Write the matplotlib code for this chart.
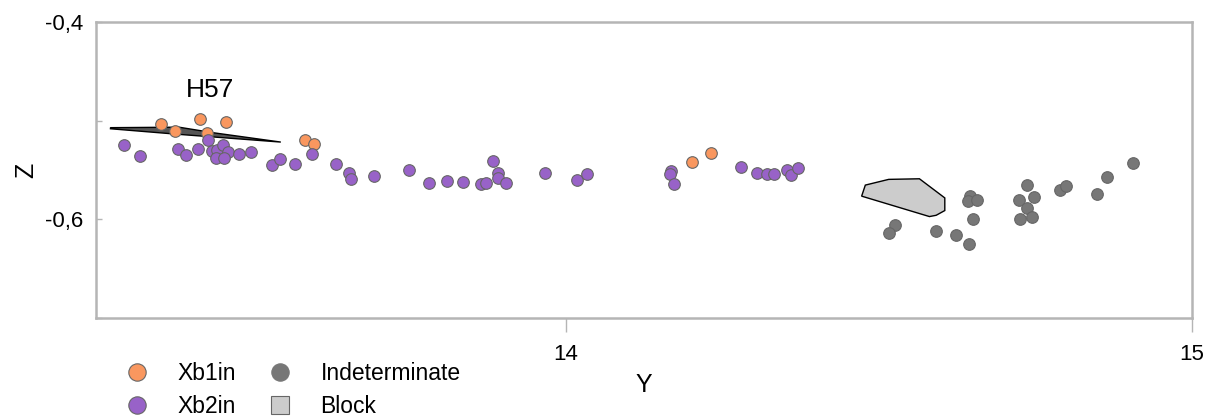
import matplotlib
matplotlib.use("Agg")
import matplotlib.pyplot as plt
from matplotlib.lines import Line2D
from matplotlib.patches import Polygon
from matplotlib.ticker import FixedLocator, FuncFormatter

plt.rcParams['font.family'] = ['Liberation Sans', 'DejaVu Sans']

# ---- data ----
xb1_y = [13.354, 13.3765, 13.416, 13.4576, 13.4272, 13.5845, 13.5973, 14.2011, 14.232]
xb1_z = [-0.5034, -0.5109, -0.4987, -0.5013, -0.5130, -0.5197, -0.5235, -0.5418, -0.5330]

xb2_y = [13.2952, 13.3208, 13.3803, 13.3941, 13.4128, 13.4288, 13.436, 13.4437, 13.4533,
         13.4608, 13.4416, 13.4536, 13.4779, 13.4976, 13.5317, 13.544, 13.5683, 13.5949,
         13.6339, 13.6533, 13.6573, 13.6931, 13.7504, 13.7813, 13.8101, 13.8363, 13.8651,
         13.8725, 13.8832, 13.8912, 13.8912, 13.9051, 13.9675, 14.0187, 14.0341, 14.168,
         14.1659, 14.1728, 14.2795, 14.3056, 14.3216, 14.3328, 14.3531, 14.36, 14.3707]
xb2_z = [-0.5247, -0.5357, -0.5286, -0.5347, -0.5286, -0.5196, -0.5308, -0.5294, -0.5247,
         -0.5319, -0.5378, -0.5378, -0.5340, -0.5316, -0.5449, -0.5390, -0.5441, -0.5337,
         -0.5436, -0.5534, -0.5587, -0.5556, -0.5497, -0.5636, -0.5609, -0.5619, -0.5646,
         -0.5636, -0.5408, -0.5534, -0.5579, -0.5636, -0.5528, -0.5599, -0.5538, -0.5510,
         -0.5538, -0.5646, -0.5466, -0.5528, -0.5544, -0.5544, -0.5497, -0.5548, -0.5477]

ind_y = [14.5264, 14.5163, 14.5915, 14.6235, 14.6437, 14.6496, 14.6448, 14.6421, 14.6565,
         14.736, 14.7232, 14.7483, 14.7371, 14.7259, 14.744, 14.7893, 14.7995, 14.848,
         14.864, 14.9051]
ind_z = [-0.6058, -0.6136, -0.6115, -0.6156, -0.6248, -0.5997, -0.5765, -0.5819, -0.5799,
         -0.5656, -0.5806, -0.5776, -0.5888, -0.5997, -0.5980, -0.5701, -0.5666, -0.5748,
         -0.5568, -0.5429]

block_y = [14.4725, 14.4784, 14.5157, 14.5648, 14.6053, 14.6053, 14.5915, 14.5808]
block_z = [-0.5765, -0.5653, -0.5595, -0.5589, -0.5783, -0.5911, -0.5959, -0.5972]

h57_y = [13.2731, 13.3824, 13.4368, 13.5451, 13.3808, 13.2731]
h57_z = [-0.5071, -0.5066, -0.5122, -0.5217, -0.5138, -0.5082]
h57_label = "H57"
h57_label_pos = (13.432, -0.4694)

x_ticks = [14, 15]
y_ticks = [-0.4, -0.5, -0.6, -0.7]
y_labeled = [-0.4, -0.6]

c_xb1 = "#F9975F"
c_xb2 = "#9862C8"
c_ind = "#777777"
c_block = "#CCCCCC"
c_edge = "#666666"
c_frame = "#B5B5B5"

# ---- figure ----
fig = plt.figure(figsize=(12.15, 4.16), dpi=100)
ax = fig.add_axes([96/1215, 1-318/416, (1192-96)/1215, (318-22)/416])
ax.set_xlim(13.25, 15)
ax.set_ylim(-0.7, -0.4)

ax.add_patch(Polygon(list(zip(h57_y, h57_z)), closed=True, facecolor="#555555",
                     edgecolor="black", linewidth=1.0, zorder=2))
ax.add_patch(Polygon(list(zip(block_y, block_z)), closed=True, facecolor=c_block,
                     edgecolor="black", linewidth=1.0, zorder=2))

ms = 70
ax.scatter(xb1_y, xb1_z, s=ms, c=c_xb1, edgecolors=c_edge, linewidths=0.8, zorder=3)
ax.scatter(xb2_y, xb2_z, s=ms, c=c_xb2, edgecolors=c_edge, linewidths=0.8, zorder=3)
ax.scatter(ind_y, ind_z, s=ms, c=c_ind, edgecolors=c_edge, linewidths=0.8, zorder=3)

ax.text(h57_label_pos[0], h57_label_pos[1], h57_label, fontsize=19, ha="center", va="center")

for s in ax.spines.values():
    s.set_color(c_frame)
    s.set_linewidth(1.8)

ax.xaxis.set_major_locator(FixedLocator(x_ticks))
ax.yaxis.set_major_locator(FixedLocator(y_ticks))
ax.xaxis.set_major_formatter(FuncFormatter(lambda v, p: f"{v:g}"))
ax.yaxis.set_major_formatter(FuncFormatter(
    lambda v, p: (f"{v:.1f}".replace(".", ",") if any(abs(v - t) < 1e-9 for t in y_labeled) else "")))
ax.tick_params(axis="x", direction="out", length=10, width=1, color=c_frame,
               labelsize=16, pad=8.5)
ax.tick_params(axis="y", direction="in", length=4, width=1, color=c_frame,
               labelsize=16, pad=9)

ax.set_xlabel("Y", fontsize=18)
ax.set_ylabel("Z", fontsize=18)
ax.xaxis.set_label_coords(0.5, (318 - 373) / 296)
ax.yaxis.set_label_coords((38 - 96) / 1096, 0.5)

handles = [
    Line2D([], [], marker="o", linestyle="none", markersize=12.5, markerfacecolor=c_xb1,
           markeredgecolor=c_edge, markeredgewidth=0.8),
    Line2D([], [], marker="o", linestyle="none", markersize=12.5, markerfacecolor=c_xb2,
           markeredgecolor=c_edge, markeredgewidth=0.8),
    Line2D([], [], marker="o", linestyle="none", markersize=12.5, markerfacecolor=c_ind,
           markeredgecolor=c_ind, markeredgewidth=0.8),
    Line2D([], [], marker="s", linestyle="none", markersize=12.5, markerfacecolor=c_block,
           markeredgecolor=c_edge, markeredgewidth=0.8),
]
labels = ["Xb1in", "Xb2in", "Indeterminate", "Block"]
fig.legend(handles, labels, ncol=2, loc="upper left",
           bbox_to_anchor=(120/1215, 1-362/416), frameon=False, fontsize=16.5,
           handlelength=1.5, handletextpad=1.0, columnspacing=1.2,
           labelspacing=0.43, borderpad=0, borderaxespad=0)

fig.savefig("out.png", dpi=100)
